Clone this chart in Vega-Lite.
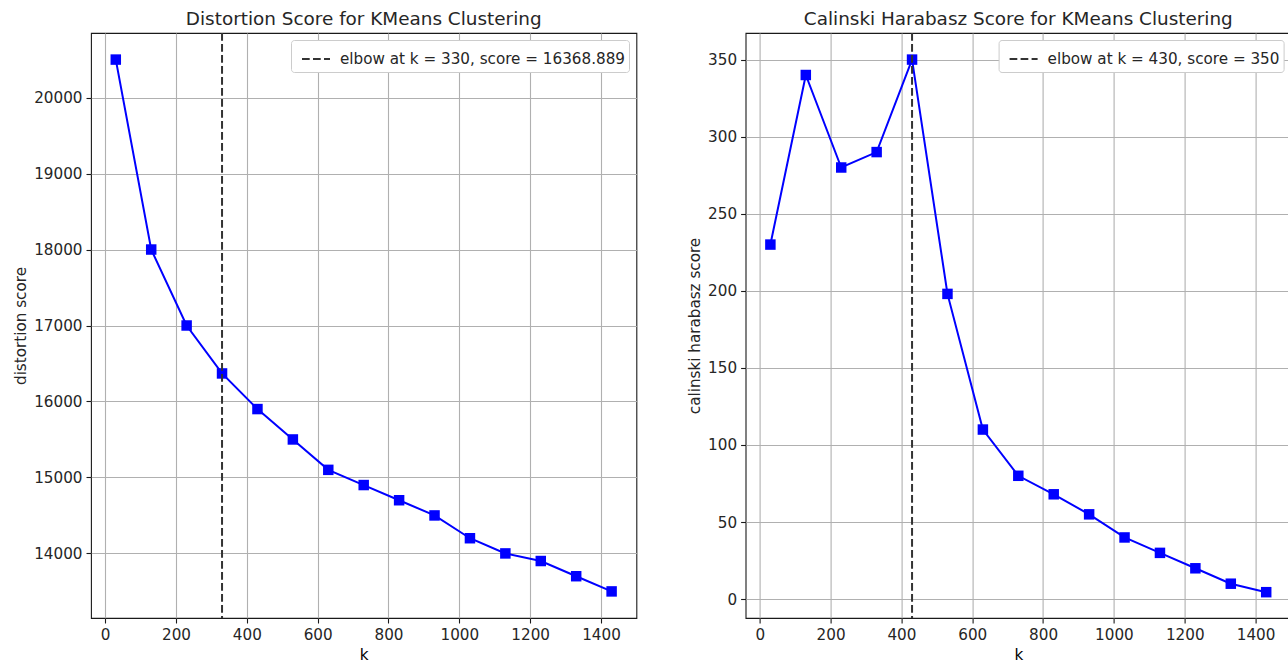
{
  "$schema": "https://vega.github.io/schema/vega-lite/v6.json",
  "background": "white",
  "padding": {"left": 13, "top": 9, "right": 0, "bottom": 0},
  "config": {
    "font": "DejaVu Sans",
    "view": {"stroke": "#1a1a1a", "strokeWidth": 1.1},
    "axis": {
      "grid": true, "gridColor": "#b0b0b0", "gridWidth": 1.1, "domain": false,
      "tickColor": "#1a1a1a", "tickSize": 5, "tickWidth": 1.1,
      "labelFont": "DejaVu Sans", "labelFontSize": 15.2, "labelColor": "#262626", "labelPadding": 4,
      "titleFont": "DejaVu Sans", "titleFontSize": 15.2, "titleFontWeight": "normal", "titleColor": "#262626", "titlePadding": 5
    },
    "title": {"font": "DejaVu Sans", "fontSize": 18.4, "fontWeight": "normal", "color": "#262626", "offset": 4, "anchor": "middle"},
    "legend": {
      "fillColor": "white", "strokeColor": "#cccccc", "cornerRadius": 3, "padding": 4,
      "symbolType": "stroke", "symbolSize": 784, "symbolStrokeColor": "#333333", "symbolStrokeWidth": 2, "symbolOffset": 6,
      "labelFont": "DejaVu Sans", "labelFontSize": 15.2, "labelColor": "#262626", "labelOffset": 9, "labelLimit": 0,
      "orient": "top-right", "offset": 7
    }
  },
  "bounds": "flush",
  "spacing": 108.6,
  "resolve": {"scale": {"x": "independent", "y": "independent", "strokeDash": "independent"}, "legend": {"strokeDash": "independent"}},
  "hconcat": [
    {
      "width": 545.4, "height": 585,
      "title": "Distortion Score for KMeans Clustering",
      "data": {"values": [
        {"k": 30, "score": 20500}, {"k": 130, "score": 18000}, {"k": 230, "score": 17000},
        {"k": 330, "score": 16368.889}, {"k": 430, "score": 15900}, {"k": 530, "score": 15500},
        {"k": 630, "score": 15100}, {"k": 730, "score": 14900}, {"k": 830, "score": 14700},
        {"k": 930, "score": 14500}, {"k": 1030, "score": 14200}, {"k": 1130, "score": 14000},
        {"k": 1230, "score": 13900}, {"k": 1330, "score": 13700}, {"k": 1430, "score": 13500}
      ]},
      "layer": [
        {
          "mark": {"type": "line", "color": "#0000ff", "strokeWidth": 2},
          "encoding": {
            "x": {"field": "k", "type": "quantitative", "scale": {"domain": [-40, 1500], "nice": false, "zero": false}, "axis": {"values": [0, 200, 400, 600, 800, 1000, 1200, 1400], "format": "d", "title": "k", "titleColor": "#000000"}},
            "y": {"field": "score", "type": "quantitative", "scale": {"domain": [13150, 20850], "nice": false, "zero": false}, "axis": {"values": [14000, 15000, 16000, 17000, 18000, 19000, 20000], "format": "d", "title": "distortion score"}}
          }
        },
        {
          "mark": {"type": "point", "shape": "square", "filled": true, "size": 110, "color": "#0000ff", "opacity": 1},
          "encoding": {
            "x": {"field": "k", "type": "quantitative"},
            "y": {"field": "score", "type": "quantitative"}
          }
        },
        {
          "data": {"values": [{"k": 330, "label": "elbow at k = 330, score = 16368.889"}]},
          "mark": {"type": "rule", "color": "#333333", "strokeWidth": 2},
          "encoding": {
            "x": {"field": "k", "type": "quantitative"},
            "strokeDash": {"field": "label", "type": "nominal", "scale": {"range": [[7.7, 3.3]]}, "legend": {"title": null}}
          }
        }
      ]
    },
    {
      "width": 545.4, "height": 585,
      "title": "Calinski Harabasz Score for KMeans Clustering",
      "data": {"values": [
        {"k": 30, "score": 230}, {"k": 130, "score": 340}, {"k": 230, "score": 280},
        {"k": 330, "score": 290}, {"k": 430, "score": 350}, {"k": 530, "score": 198},
        {"k": 630, "score": 110}, {"k": 730, "score": 80}, {"k": 830, "score": 68},
        {"k": 930, "score": 55}, {"k": 1030, "score": 40}, {"k": 1130, "score": 30},
        {"k": 1230, "score": 20}, {"k": 1330, "score": 10}, {"k": 1430, "score": 4.5}
      ]},
      "layer": [
        {
          "mark": {"type": "line", "color": "#0000ff", "strokeWidth": 2},
          "encoding": {
            "x": {"field": "k", "type": "quantitative", "scale": {"domain": [-40, 1500], "nice": false, "zero": false}, "axis": {"values": [0, 200, 400, 600, 800, 1000, 1200, 1400], "format": "d", "title": "k", "titleColor": "#000000"}},
            "y": {"field": "score", "type": "quantitative", "scale": {"domain": [-12.25, 367.25], "nice": false, "zero": false}, "axis": {"values": [0, 50, 100, 150, 200, 250, 300, 350], "title": "calinski harabasz score"}}
          }
        },
        {
          "mark": {"type": "point", "shape": "square", "filled": true, "size": 110, "color": "#0000ff", "opacity": 1},
          "encoding": {
            "x": {"field": "k", "type": "quantitative"},
            "y": {"field": "score", "type": "quantitative"}
          }
        },
        {
          "data": {"values": [{"k": 430, "label": "elbow at k = 430, score = 350"}]},
          "mark": {"type": "rule", "color": "#333333", "strokeWidth": 2},
          "encoding": {
            "x": {"field": "k", "type": "quantitative"},
            "strokeDash": {"field": "label", "type": "nominal", "scale": {"range": [[7.7, 3.3]]}, "legend": {"title": null}}
          }
        }
      ]
    }
  ]
}
